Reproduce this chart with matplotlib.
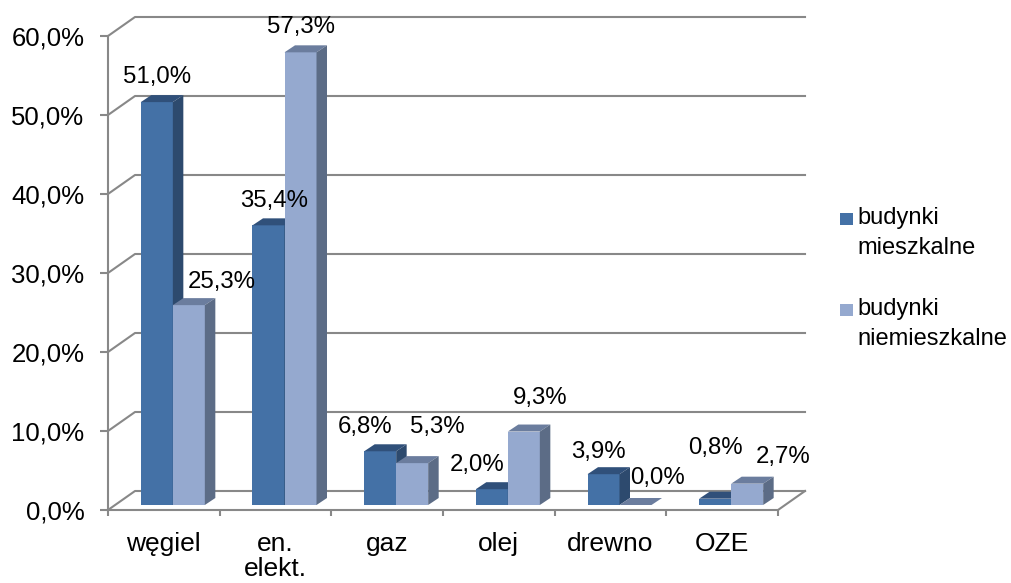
import matplotlib.pyplot as plt
from matplotlib.patches import Polygon, Rectangle
import numpy as np

plt.rcParams['font.family'] = ['Liberation Sans', 'DejaVu Sans']

# data
categories = ["węgiel", "en.\nelekt.", "gaz", "olej", "drewno", "OZE"]
mieszkalne = [51.0, 35.4, 6.8, 2.0, 3.9, 0.8]
niemieszkalne = [25.3, 57.3, 5.3, 9.3, 0.0, 2.7]
series_names = ["budynki\nmieszkalne", "budynki\nniemieszkalne"]
y_ticks = [0, 10, 20, 30, 40, 50, 60]

# label nudges (pixels), Excel places 3d labels a bit irregularly
lab_dx = [[0, 6, -15, -15, -5, 0], [33, 1, 25, 16, 22, 36]]
lab_dy = [[25, 24, 24, 24, 22, 51], [23, 25, 36, 34, 27, 27]]

# colours: front, top, side
dark = ("#4471a6", "#30507a", "#2d4a6e")
light = ("#95a9cf", "#6b7d9e", "#5c6c86")
grid_c = "#888888"

fig = plt.figure(figsize=(10.11, 5.83), dpi=100)
ax = fig.add_axes([108 / 1011, 73 / 583, 670 / 1011, 474 / 583])
ax.set_xlim(-0.5, 5.5)
ax.set_ylim(0, 60)


def ux(p):
    return p * 6 / 670


def uy(p):
    return p * 60 / 474


# 3d offsets
DX, DY = ux(27), uy(19)        # back wall
BX, BY = ux(9), uy(5)          # bar plane
W = ux(32)                     # bar width
DDX, DDY = ux(10.5), uy(7)     # bar depth

# back wall gridlines + side diagonals
for v in y_ticks:
    ax.plot([-0.5, -0.5 + DX, 5.5 + DX], [v, v + DY, v + DY],
            color=grid_c, lw=1.5, clip_on=False, zorder=1)
ax.plot([5.5, 5.5 + DX], [0, DY], color=grid_c, lw=1.5, clip_on=False, zorder=1)

# bars
z = 3
for i in range(len(categories)):
    for j, (vals, cols) in enumerate([(mieszkalne, dark), (niemieszkalne, light)]):
        v = vals[i]
        x0 = i + BX - W + j * W
        ax.bar(x0, v, width=W, bottom=BY, align='edge', color=cols[0],
               lw=0, zorder=z, clip_on=False)
        top = Polygon([(x0, BY + v), (x0 + W, BY + v), (x0 + W + DDX, BY + v + DDY),
                       (x0 + DDX, BY + v + DDY)], closed=True, color=cols[1], lw=0,
                      zorder=z, clip_on=False)
        side = Polygon([(x0 + W, BY), (x0 + W + DDX, BY + DDY), (x0 + W + DDX, BY + v + DDY),
                        (x0 + W, BY + v)], closed=True, color=cols[2], lw=0,
                       zorder=z, clip_on=False)
        ax.add_patch(top)
        ax.add_patch(side)
        z += 1
        txt = f"{v:.1f}%".replace(".", ",")
        ax.annotate(txt, (x0 + W / 2, BY + v), xytext=(lab_dx[j][i], lab_dy[j][i]),
                    textcoords='offset pixels', ha='center', va='center',
                    fontsize=17.3, zorder=50)

# axes styling
for s in ["top", "right"]:
    ax.spines[s].set_visible(False)
for s in ["left", "bottom"]:
    ax.spines[s].set_color(grid_c)
    ax.spines[s].set_linewidth(1.5)
ax.patch.set_visible(False)

ax.set_yticks(y_ticks)
ax.set_yticklabels([f"{t:.1f}%".replace(".", ",") for t in y_ticks], fontsize=18.5)
ax.tick_params(axis='y', length=6, width=1.5, color=grid_c, pad=11)

ax.set_xticks(np.arange(-0.5, 6, 1))
ax.set_xticklabels([])
ax.set_xticks(range(len(categories)), minor=True)
ax.set_xticklabels(categories, minor=True, fontsize=19, linespacing=1.1)
ax.tick_params(axis='x', which='major', length=4.5, width=1.5, color=grid_c)
ax.tick_params(axis='x', which='minor', length=0, pad=15.5)
for t in ax.get_xticklabels(minor=True):
    t.set_verticalalignment('top')

# legend drawn by hand so the square sits on the first line
leg_cols = [dark[0], light[0]]
leg_top = [207, 298]
for name, c, yt in zip(series_names, leg_cols, leg_top):
    fig.patches.append(Rectangle((840 / 1011, 1 - (yt + 18) / 583), 13 / 1011, 12 / 583,
                                 transform=fig.transFigure, color=c, lw=0))
    fig.text(857 / 1011, 1 - yt / 583, name, ha='left', va='top', fontsize=17,
             linespacing=1.45)

fig.savefig("out.png", dpi=100)
